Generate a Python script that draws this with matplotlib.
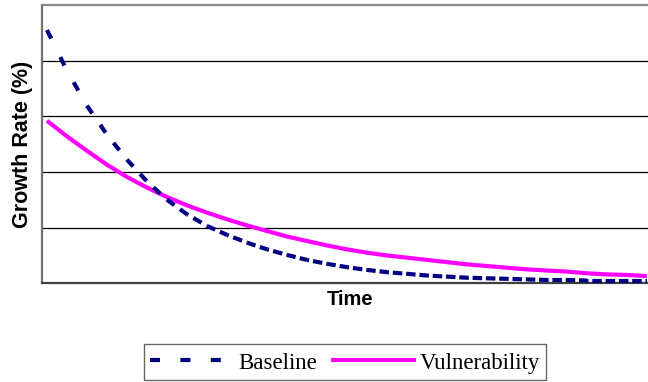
import matplotlib
matplotlib.use("Agg")
import matplotlib.pyplot as plt
from matplotlib.lines import Line2D
import numpy as np

# time steps (arbitrary units) and growth rates
time = list(range(31))
baseline = [4.55, 3.82, 3.19, 2.67, 2.22, 1.83, 1.50, 1.24, 1.03, 0.87,
            0.73, 0.61, 0.51, 0.42, 0.35, 0.29, 0.24, 0.20, 0.17, 0.14,
            0.12, 0.10, 0.09, 0.08, 0.07, 0.06, 0.06, 0.05, 0.05, 0.05, 0.05]
vulnerability = [2.92, 2.64, 2.38, 2.13, 1.91, 1.72, 1.55, 1.40, 1.27, 1.15,
                 1.04, 0.94, 0.84, 0.76, 0.68, 0.61, 0.55, 0.50, 0.46, 0.42,
                 0.38, 0.34, 0.31, 0.28, 0.25, 0.23, 0.21, 0.18, 0.16, 0.15, 0.13]

W, H = 648, 382
NAVY = "#000080"
PINK = "#FF00FF"
LW = 3

fig = plt.figure(figsize=(W / 100, H / 100), dpi=100)
ax = fig.add_axes([42 / W, 1 - 283.3 / H, 610 / W, 278.3 / H])
ax.set_xlim(-0.25, 30.25)
ax.set_ylim(0, 5)

ax.plot(time, vulnerability, color=PINK, lw=LW, solid_capstyle="butt", zorder=3)

# Excel draws this dash pattern evenly spaced along x, so each segment
# gets its own dash lengths (pixels -> points, divided by line width)
period_px, on_px = 13.3, 9.5
pts = ax.transData.transform(np.column_stack([time, baseline]))
x_start = pts[0, 0]
for i in range(len(time) - 1):
    (x1, y1), (x2, y2) = pts[i], pts[i + 1]
    stretch = np.hypot(x2 - x1, y2 - y1) / (x2 - x1)
    per = period_px * stretch
    phase = ((x1 - x_start) % period_px) * stretch
    k = 0.72 / LW
    ax.plot(time[i:i + 2], baseline[i:i + 2], color=NAVY, lw=LW,
            ls=(phase * k, (on_px * k, (per - on_px) * k)),
            dash_capstyle="butt", zorder=4)

ax.set_yticks([1, 2, 3, 4])
ax.set_xticks([])
ax.tick_params(axis="y", length=0, labelleft=False)
ax.yaxis.grid(True, color="black", lw=0.9)
ax.set_axisbelow(True)

ax.spines["right"].set_visible(False)
ax.spines["left"].set_color("#707070")
ax.spines["left"].set_linewidth(1.6)
ax.spines["top"].set_color("#8a8a8a")
ax.spines["top"].set_linewidth(1.6)
ax.spines["bottom"].set_color("#404040")
ax.spines["bottom"].set_linewidth(1.6)

ax.set_ylabel("Growth Rate (%)", fontsize=15.5, fontweight="bold",
              family="Liberation Sans", va="center")
ax.yaxis.set_label_coords((23 - 42) / 610, 0.5)
ax.set_xlabel("Time", fontsize=14.5, fontweight="bold", family="Liberation Sans")
ax.xaxis.set_label_coords((350 - 42) / 610, -(290 - 283.3) / 278.3)

handles = [
    Line2D([], [], color=NAVY, lw=LW, dashes=(2.4, 4.9), dash_capstyle="butt"),
    Line2D([], [], color=PINK, lw=LW, solid_capstyle="butt"),
]
leg = fig.legend(handles, ["Baseline", "Vulnerability"], loc="center",
                 bbox_to_anchor=(345 / W, 1 - 362 / H), ncol=2,
                 prop={"family": "Liberation Serif", "size": 16.5},
                 frameon=True, fancybox=False, edgecolor="#404040",
                 handlelength=3.7, handleheight=1.16, handletextpad=0.17,
                 columnspacing=0.6, borderpad=0.26, borderaxespad=0)
leg.get_frame().set_linewidth(1.0)

fig.savefig("out.png", dpi=100)
